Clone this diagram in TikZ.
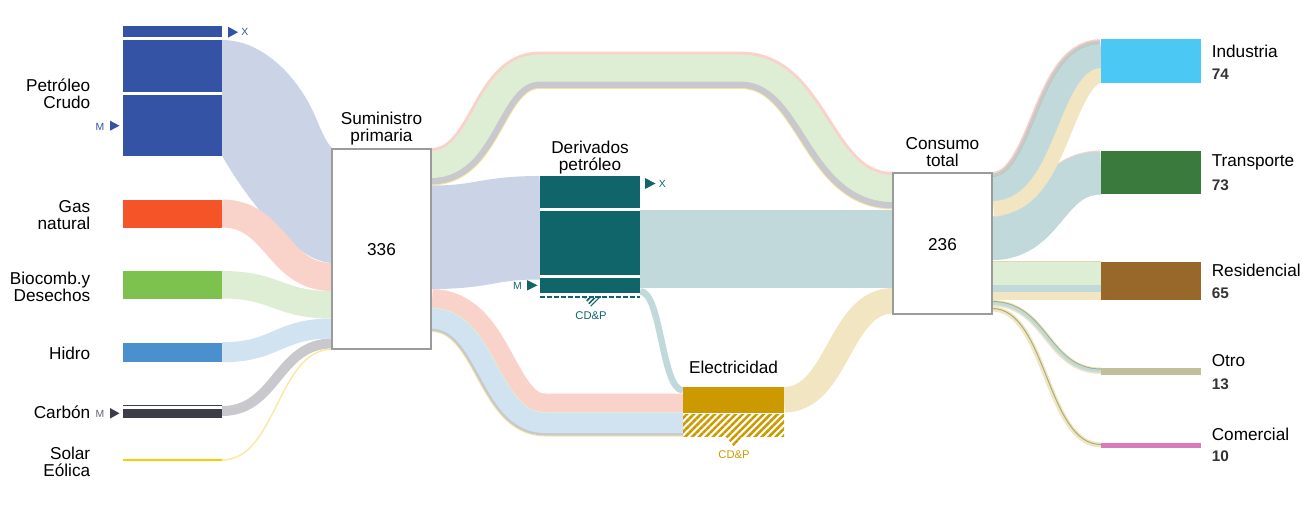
\documentclass[tikz,border=0pt]{standalone}
\usepackage{fontspec}
\setmainfont{Liberation Sans}
\usetikzlibrary{fit,patterns.meta}

% source colours
\definecolor{crudo}{HTML}{3453A5}
\definecolor{gasc}{HTML}{F45428}
\definecolor{bioc}{HTML}{7DC24E}
\definecolor{hidroc}{HTML}{4A8FCE}
\definecolor{carbonc}{HTML}{3D3D48}
\definecolor{solarc}{HTML}{F6CD00}
% flow colours
\definecolor{crudoL}{HTML}{CBD4E7}
\definecolor{gasL}{HTML}{F9D2C9}
\definecolor{bioL}{HTML}{DEEED4}
\definecolor{hidroL}{HTML}{D1E2F1}
\definecolor{carbonL}{HTML}{C9C9CD}
\definecolor{solarL}{HTML}{F8EAA4}
\definecolor{derivL}{HTML}{C1D9DB}
\definecolor{elecL}{HTML}{F2E5C1}
\definecolor{tanL}{HTML}{E3D6B0}
\definecolor{oliveL}{HTML}{A3AE80}
\definecolor{oliveG}{HTML}{B9C8A8}
% transformation and end use
\definecolor{derivc}{HTML}{10656B}
\definecolor{elecc}{HTML}{CC9A00}
\definecolor{hubgray}{HTML}{9B9B9B}
\definecolor{indc}{HTML}{4BC8F3}
\definecolor{trac}{HTML}{3A7A3C}
\definecolor{resc}{HTML}{98672A}
\definecolor{otrc}{HTML}{C0C09C}
\definecolor{comc}{HTML}{D97BBA}
\definecolor{numc}{HTML}{333333}

% single-colour flow of constant width:
% style, from node, y, to node, y, control offset, width (px)
\newcommand\flow[7]{%
  \begin{scope}
    \clip (#2.east |- 0,-100) rectangle (#4.west |- 0,700);
    \draw[#1,line width=0.75pt*#7] (#2.east |- 0,#3)
      .. controls +(#6,0) and +(-#6,0) .. (#4.west |- 0,#5);
  \end{scope}}
% striped flow of constant width around the centre of its main stripe:
% from anchor, y, path between, to anchor, y,
% stripes above (half-width/colour, outermost first), stripes below, main stripe style
\newcommand\bundle[8]{%
  \begin{scope}
    \clip (#1 |- 0,#2) #3 (#4 |- 0,#5) -- (#4 |- 0,-100) -- (#1 |- 0,-100) -- cycle;
    \foreach \w/\c in {#6} {\draw[color=\c,line width=1.5pt*\w] (#1 |- 0,#2) #3 (#4 |- 0,#5);}
  \end{scope}
  \begin{scope}
    \clip (#1 |- 0,#2) #3 (#4 |- 0,#5) -- (#4 |- 0,700) -- (#1 |- 0,700) -- cycle;
    \foreach \w/\c in {#7} {\draw[color=\c,line width=1.5pt*\w] (#1 |- 0,#2) #3 (#4 |- 0,#5);}
  \end{scope}
  \begin{scope}
    \clip (#1 |- 0,-100) rectangle (#4 |- 0,700);
    \draw[#8] (#1 |- 0,#2) #3 (#4 |- 0,#5);
  \end{scope}}

\begin{document}
\begin{tikzpicture}[x=0.75pt,y=-0.75pt,
  box/.style={inner sep=0pt,outer sep=0pt,draw=none},
  hub/.style={inner sep=0pt,outer sep=0pt,draw=hubgray,line width=1.9pt,fill=white},
  lbl/.style={font=\fontsize{12.9}{12.75}\selectfont,inner sep=0pt,text=black},
  num/.style={font=\fontsize{11.5}{13}\selectfont\bfseries,inner sep=0pt,text=numc,anchor=west},
  tag/.style={font=\fontsize{7.8}{9}\selectfont,inner sep=0pt},
  cdp/.style={font=\fontsize{8.4}{10}\selectfont,inner sep=0pt}]
\useasboundingbox (0,0) rectangle (1302,515);

% ---------- box geometry ----------
\path
  node[box,fit={(123,26) (222,155.5)}] (crudo) {}
  node[box,fit={(123,199.5) (222,227.5)}] (gas) {}
  node[box,fit={(123,271) (222,298.5)}] (bio) {}
  node[box,fit={(123,342.5) (222,362)}] (hidro) {}
  node[box,fit={(123,405) (222,418)}] (carbon) {}
  node[box,fit={(123,458.7) (222,461.3)}] (solar) {}
  node[box,fit={(332,149) (431,349)}] (sum) {}
  node[box,fit={(540,176) (640,293)}] (deriv) {}
  node[box,fit={(683,387) (784,412.5)}] (elec) {}
  node[box,fit={(893,173) (992,314)}] (cons) {}
  node[box,fit={(1101,39) (1201,83)}] (ind) {}
  node[box,fit={(1101,151) (1201,194)}] (tra) {}
  node[box,fit={(1101,261.5) (1201,300)}] (res) {}
  node[box,fit={(1101,368) (1201,374.5)}] (otr) {}
  node[box,fit={(1101,442.5) (1201,447.5)}] (com) {};
\coordinate (upL) at (540,0);
\coordinate (upR) at (740,0);
\coordinate (lowL) at (545,0);

% ---------- sources into primary supply ----------
\fill[crudoL] (crudo.east |- 0,40) .. controls +(43,0) and (300,80) .. (316,118)
  .. controls (323,135) and (327,143) .. (sum.west |- 0,148)
  -- (sum.west |- 0,263) .. controls (290,262) and (235,180) .. (crudo.east |- 0,155.5) -- cycle;
\flow{gasL}{gas}{213.5}{sum}{277}{54.5}{28}
\flow{bioL}{bio}{284.75}{sum}{304.75}{54.5}{27.5}
\flow{hidroL}{hidro}{352.25}{sum}{328.5}{54.5}{20}
\flow{carbonL}{carbon}{411}{sum}{343.5}{54.5}{10}
\flow{solarL}{solar}{460}{sum}{349.25}{54.5}{1.5}

% ---------- primary supply straight to consumption ----------
\bundle{sum.east}{164.5}{.. controls +(55,0) and +(-55,0) .. (upL |- 0,68) -- (upR |- 0,68)
  .. controls +(76,0) and +(-76,0) ..}{cons.west}{188.5}
  {16.5/gasL}{21/solarL,20/carbonL}{bioL,line width=20.25pt}

% ---------- crude to refineries ----------
\flow{crudoL}{sum}{237.25}{deriv}{227.75}{54.5}{103.5}

% ---------- primary supply to electricity ----------
\bundle{sum.east}{318.5}{.. controls +(57,0) and +(-57,0) .. (lowL |- 0,423) --}{elec.west}{423}
  {29.5/gasL,11/bioL}{13.5/solarL,12.5/carbonL}{hidroL,line width=15pt}

% ---------- refined products ----------
\draw[derivL,line width=58.5pt] (deriv.east |- 0,249) -- (cons.west |- 0,249);
\flow{derivL}{deriv}{291.25}{elec}{390.25}{21.5}{6.5}

% ---------- electricity to consumption ----------
\flow{elecL}{elec}{399.75}{cons}{300.75}{54}{25.5}

% ---------- consumption by sector ----------
\bundle{cons.east}{238.5}{.. controls +(54.5,0) and +(-54.5,0) ..}{tra.west}{173}
  {22.5/gasL}{21.5/derivL}{derivL,line width=32.25pt}
\bundle{cons.east}{189}{.. controls +(54.5,0) and +(-54.5,0) ..}{ind.west}{56}
  {17/gasL,15.5/carbonL,12.7/oliveG}{27/elecL}{derivL,line width=18pt}
\draw[tanL,line width=0.75pt] (cons.east |- 0,261.5) -- (res.west |- 0,261.5);
\draw[bioL,line width=16.875pt] (cons.east |- 0,273.25) -- (res.west |- 0,273.25);
\draw[derivL,line width=5.625pt] (cons.east |- 0,288.25) -- (res.west |- 0,288.25);
\draw[elecL,line width=6pt] (cons.east |- 0,296) -- (res.west |- 0,296);
\bundle{cons.east}{303.5}{.. controls +(54.5,0) and +(-54.5,0) ..}{otr.west}{371}
  {3.5/elecL,2.5/oliveL}{3/elecL}{derivL,line width=2.25pt}
\bundle{cons.east}{308.5}{.. controls +(54.5,0) and +(-54.5,0) ..}{com.west}{444.5}
  {2/elecL}{3/elecL}{oliveL,line width=0.75pt}

% ---------- source boxes ----------
\fill[crudo] (crudo.north west) rectangle (crudo.south east);
\draw[white,line width=1.6pt] (crudo.west |- 0,38.5) -- (crudo.east |- 0,38.5)
  (crudo.west |- 0,93.5) -- (crudo.east |- 0,93.5);
\fill[gasc] (gas.north west) rectangle (gas.south east);
\fill[bioc] (bio.north west) rectangle (bio.south east);
\fill[hidroc] (hidro.north west) rectangle (hidro.south east);
\fill[carbonc] (carbon.north west) rectangle (carbon.south east);
\draw[white,line width=2.2pt] (carbon.west |- 0,407.8) -- (carbon.east |- 0,407.8);
\fill[solarc] (solar.north west) rectangle (solar.south east);

% ---------- hubs ----------
\draw[hub] (sum.north west) rectangle (sum.south east);
\draw[hub] (cons.north west) rectangle (cons.south east);

% ---------- refineries ----------
\fill[derivc] (deriv.north west) rectangle (deriv.south east);
\draw[white,line width=1.6pt] (deriv.west |- 0,209.5) -- (deriv.east |- 0,209.5)
  (deriv.west |- 0,276.5) -- (deriv.east |- 0,276.5);
\draw[derivc,line width=1.3pt,dash pattern=on 3.8pt off 1.4pt] (deriv.west |- 0,296.8) -- (deriv.east |- 0,296.8);
\fill[pattern={Lines[angle=45,distance=2.6pt,line width=1.3pt]},pattern color=derivc]
  (584.5,298) -- (599.5,298) -- (591,306.5) -- cycle;

% ---------- electricity ----------
\fill[elecc] (elec.north west) rectangle (elec.south east);
\fill[pattern={Lines[angle=45,distance=3.7pt,line width=1.9pt]},pattern color=elecc]
  (683,414.5) rectangle (784,436);
\fill[pattern={Lines[angle=45,distance=3.7pt,line width=1.9pt]},pattern color=elecc]
  (725.5,436) -- (742.5,436) -- (734,446.5) -- cycle;

% ---------- end-use boxes ----------
\fill[indc] (ind.north west) rectangle (ind.south east);
\fill[trac] (tra.north west) rectangle (tra.south east);
\fill[resc] (res.north west) rectangle (res.south east);
\fill[otrc] (otr.north west) rectangle (otr.south east);
\fill[comc] (com.north west) rectangle (com.south east);

% ---------- import / export markers ----------
\fill[crudo] (228,26.7) -- (238,32.2) -- (228,37.7) -- cycle;
\node[tag,text=crudo,anchor=west] (crudoX) at (241,31.5) {X};
\fill[crudo] (110,120.7) -- (119.5,125.7) -- (110,130.7) -- cycle;
\node[tag,text=crudo,anchor=east] (crudoM) at (104.5,126.5) {M};
\fill[carbonc] (110,408) -- (119.5,413.3) -- (110,418.6) -- cycle;
\node[tag,text=carbonc!80,anchor=east] (carbonM) at (104.5,414) {M};
\fill[derivc] (645,178) -- (655.5,183.5) -- (645,189) -- cycle;
\node[tag,text=derivc,anchor=west] (derivX) at (658.5,183.5) {X};
\fill[derivc] (527,280) -- (537.5,285.3) -- (527,290.6) -- cycle;
\node[tag,text=derivc,anchor=east] (derivM) at (522,286) {M};
\node[cdp,text=derivc] (derivCDP) at (591,315.5) {CD\&P};
\node[cdp,text=elecc] (elecCDP) at (734,454.5) {CD\&P};

% ---------- labels ----------
\node[lbl,align=right,anchor=east] (lcrudo) at (90.5,93.5) {Petróleo\\Crudo};
\node[lbl,align=right,anchor=east] (lgas) at (90.5,215.5) {Gas\\natural};
\node[lbl,align=right,anchor=east] (lbio) at (90.5,286.7) {Biocomb.y\\Desechos};
\node[lbl,align=right,anchor=east] (lhidro) at (90.5,353.5) {Hidro};
\node[lbl,align=right,anchor=east] (lcarbon) at (90.5,412) {Carbón};
\node[lbl,align=right,anchor=east] (lsolar) at (90.5,461.7) {Solar\\Eólica};
\node[lbl,align=center] (lsum) at (381.5,128.3) {Suministro\\primaria};
\node[lbl] (vsum) at (381.5,250) {336};
\node[lbl,align=center] (lderiv) at (590,158) {Derivados\\petróleo};
\node[lbl] (lelec) at (733.5,367) {Electricidad};
\node[lbl,align=center] (lcons) at (942.5,152.5) {Consumo\\total};
\node[lbl] (vcons) at (942.5,244.3) {236};
\node[lbl,anchor=west] (lind) at (1211.5,51.5) {Industria};
\node[num] (vind) at (1211.5,74) {74};
\node[lbl,anchor=west] (ltra) at (1211.5,162.5) {Transporte};
\node[num] (vtra) at (1211.5,185) {73};
\node[lbl,anchor=west] (lres) at (1211.5,270.5) {Residencial};
\node[num] (vres) at (1211.5,293.3) {65};
\node[lbl,anchor=west] (lotr) at (1211.5,361) {Otro};
\node[num] (votr) at (1211.5,384) {13};
\node[lbl,anchor=west] (lcom) at (1211.5,434.3) {Comercial};
\node[num] (vcom) at (1211.5,456.7) {10};
\end{tikzpicture}
\end{document}
